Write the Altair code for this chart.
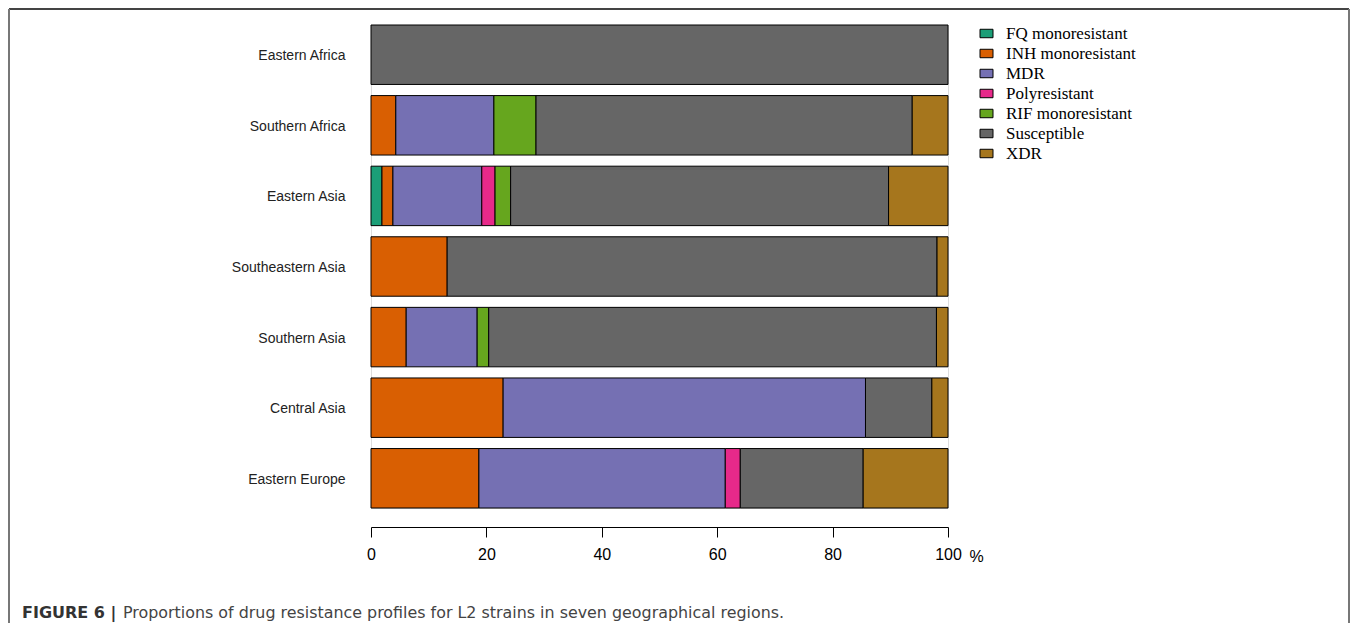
import altair as alt
import pandas as pd

regions = ["Eastern Africa", "Southern Africa", "Eastern Asia", "Southeastern Asia",
           "Southern Asia", "Central Asia", "Eastern Europe"]
profiles = ["FQ monoresistant", "INH monoresistant", "MDR", "Polyresistant",
            "RIF monoresistant", "Susceptible", "XDR"]
colors = ["#1B9E77", "#D95F02", "#7570B3", "#E7298A", "#66A61E", "#666666", "#A6761D"]

fq_mono = [0, 0, 1.9, 0, 0, 0, 0]
inh_mono = [0, 4.3, 1.9, 13.2, 6.1, 22.9, 18.7]
mdr = [0, 17.0, 15.4, 0, 12.3, 62.8, 42.7]
poly = [0, 0, 2.3, 0, 0, 0, 2.6]
rif_mono = [0, 7.3, 2.7, 0, 2.0, 0, 0]
susceptible = [100, 65.2, 65.5, 84.9, 77.6, 11.5, 21.3]
xdr = [0, 6.2, 10.3, 1.9, 2.0, 2.8, 14.7]

x_ticks = [0, 20, 40, 60, 80, 100]

series = [fq_mono, inh_mono, mdr, poly, rif_mono, susceptible, xdr]
rows = []
for pi, (name, vals) in enumerate(zip(profiles, series)):
    for r, v in zip(regions, vals):
        if v > 0:
            rows.append({"region": r, "profile": name, "pct": v, "ord": pi})
df = pd.DataFrame(rows)

W, H = 577, 483
PAD_L, PAD_T = 363, 17
TOTAL_W, TOTAL_H = 1342, 615

bars = alt.Chart(df).mark_bar(stroke="black", strokeWidth=1).encode(
    x=alt.X("sum(pct):Q",
            scale=alt.Scale(domain=[0, 100], nice=False),
            axis=alt.Axis(values=x_ticks, title="%", grid=False, offset=19,
                          tickSize=10, tickColor="black", domainColor="black",
                          tickWidth=1, domainWidth=1, labelFontSize=16,
                          labelFont="Liberation Sans", labelColor="black",
                          labelFlush=False, labelPadding=9,
                          titleFont="Liberation Sans",
                          titleFontSize=16, titleFontWeight="normal",
                          titleX=605, titleY=29, titleBaseline="middle",
                          titleAlign="center", titleColor="black")),
    y=alt.Y("region:N", sort=regions,
            scale=alt.Scale(paddingInner=0.158, paddingOuter=0),
            axis=alt.Axis(title=None, domain=False, ticks=False,
                          labelFont="Liberation Sans", labelFontSize=14,
                          labelColor="#222222", labelPadding=26, labelOffset=1.5)),
    color=alt.Color("profile:N", sort=profiles,
                    scale=alt.Scale(domain=profiles, range=colors),
                    legend=alt.Legend(title=None, orient="none", legendX=607,
                                      legendY=0, labelFont="Liberation Serif",
                                      labelFontSize=17, labelColor="black",
                                      symbolType="M-1,-0.65L1,-0.65L1,0.65L-1,0.65Z",
                                      symbolSize=169, symbolStrokeColor="black",
                                      symbolStrokeWidth=1, symbolOpacity=1,
                                      rowPadding=2, labelOffset=11, padding=0)),
    order=alt.Order("ord:Q"),
)

frame_top = alt.Chart(pd.DataFrame({"a": [0]})).mark_rule(color="#444444", strokeWidth=2).encode(
    x=alt.value(-PAD_L + 1), x2=alt.value(TOTAL_W - PAD_L - 1), y=alt.value(-PAD_T + 1))
frame_left = alt.Chart(pd.DataFrame({"a": [0]})).mark_rule(color="#777777", strokeWidth=2).encode(
    x=alt.value(-PAD_L + 1), y=alt.value(-PAD_T + 1), y2=alt.value(TOTAL_H))
frame_right = alt.Chart(pd.DataFrame({"a": [0]})).mark_rule(color="#777777", strokeWidth=2).encode(
    x=alt.value(TOTAL_W - PAD_L - 1), y=alt.value(-PAD_T + 1), y2=alt.value(TOTAL_H))

cap_bold = alt.Chart(pd.DataFrame({"t": ["FIGURE 6 |"]})).mark_text(
    font="DejaVu Sans", fontSize=16, fontWeight="bold", align="left",
    baseline="alphabetic", color="#333333").encode(
    text="t:N", x=alt.value(22 - 8 - PAD_L), y=alt.value(618 - 8 - PAD_T))
cap_text = alt.Chart(pd.DataFrame({"t": ["Proportions of drug resistance profiles for L2 strains in seven geographical regions."]})).mark_text(
    font="DejaVu Sans", fontSize=15.9, align="left",
    baseline="alphabetic", color="#444444").encode(
    text="t:N", x=alt.value(123 - 8 - PAD_L), y=alt.value(618 - 8 - PAD_T))

chart = alt.layer(bars, frame_top, frame_left, frame_right, cap_bold, cap_text).properties(
    width=W, height=H,
    autosize=alt.AutoSizeParams(type="none"),
    padding={"left": PAD_L, "top": PAD_T,
             "right": TOTAL_W - PAD_L - W, "bottom": TOTAL_H - PAD_T - H},
).configure_view(stroke=None).configure(background="white")

chart.save("out.html", embed_options={"renderer": "svg", "actions": False})
